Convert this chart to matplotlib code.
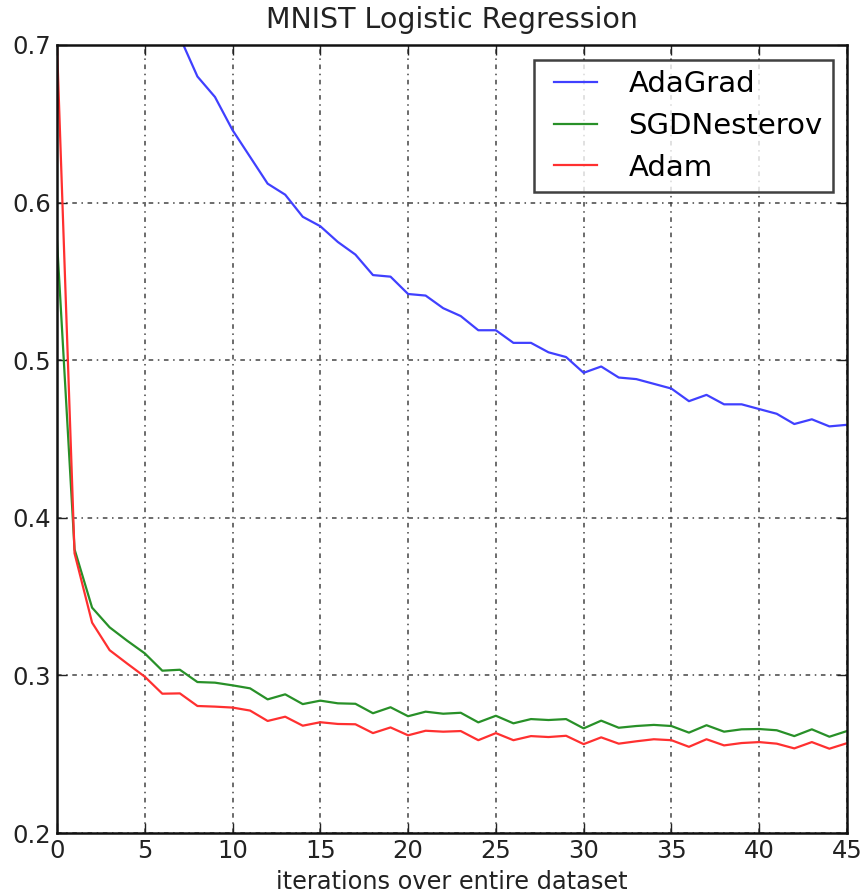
import matplotlib
matplotlib.use("Agg")
import matplotlib.pyplot as plt
from matplotlib.legend_handler import HandlerLine2D
import numpy as np

iterations = np.arange(46)

adagrad = [1.20, 0.95, 0.87, 0.81, 0.77, 0.74, 0.72, 0.705, 0.680, 0.667,
           0.646, 0.629, 0.612, 0.605, 0.591, 0.585, 0.575, 0.567, 0.554, 0.553,
           0.542, 0.541, 0.533, 0.528, 0.519, 0.519, 0.511, 0.511, 0.505, 0.502,
           0.492, 0.496, 0.489, 0.488, 0.485, 0.482, 0.474, 0.478, 0.472, 0.472,
           0.469, 0.466, 0.4595, 0.4625, 0.458, 0.459]

sgd_nesterov = [0.576, 0.380, 0.343, 0.3305, 0.322, 0.314, 0.303, 0.3036, 0.2958, 0.2954,
                0.2937, 0.2918, 0.2848, 0.288, 0.2818, 0.284, 0.2823, 0.282, 0.276, 0.2798,
                0.2741, 0.277, 0.2757, 0.2763, 0.2702, 0.2744, 0.2696, 0.2723, 0.2717, 0.2723,
                0.2664, 0.2713, 0.2668, 0.2679, 0.2686, 0.2679, 0.2637, 0.2684, 0.2643, 0.2658,
                0.266, 0.2652, 0.2615, 0.2658, 0.2611, 0.2647]

adam = [0.700, 0.3775, 0.3335, 0.316, 0.3075, 0.2992, 0.2884, 0.2886, 0.2806, 0.2802,
        0.2796, 0.2777, 0.2711, 0.2738, 0.2681, 0.2703, 0.2692, 0.269, 0.2634, 0.267,
        0.262, 0.2649, 0.2643, 0.2647, 0.2589, 0.2634, 0.2589, 0.2615, 0.2609, 0.2617,
        0.2564, 0.2607, 0.2567, 0.2582, 0.2595, 0.2589, 0.2547, 0.2595, 0.2556, 0.2571,
        0.2577, 0.2567, 0.2537, 0.2577, 0.2535, 0.257]

plt.rcParams["font.family"] = ["DejaVu Sans"]

fig = plt.figure(figsize=(8.66, 8.94), dpi=100)
ax = fig.add_axes([0.0658, 0.0682, 0.9122, 0.8815])

ax.plot(iterations, adagrad, color="#4040ff", linewidth=1.6, label="AdaGrad")
ax.plot(iterations, sgd_nesterov, color="#289028", linewidth=1.6, label="SGDNesterov")
ax.plot(iterations, adam, color="#ff3030", linewidth=1.6, label="Adam")

ax.set_xlim(0, 45)
ax.set_ylim(0.2, 0.7)
ax.set_xticks([0, 5, 10, 15, 20, 25, 30, 35, 40, 45])
ax.set_yticks([0.2, 0.3, 0.4, 0.5, 0.6, 0.7])
ax.set_yticklabels(["0.2", "0.3", "0.4", "0.5", "0.6", "0.7"])
ax.tick_params(direction="in", length=7, width=1, top=True, right=True,
               labelsize=17.5, pad=4, colors="#222222")
ax.grid(True, color="#444444", linestyle=(0, (3, 3, 1, 3)), linewidth=1.1)
for s in ax.spines.values():
    s.set_linewidth(1.8)
    s.set_color("#111111")

ax.set_title("MNIST Logistic Regression", fontsize=20.5, pad=12.5, color="#222222")
ax.set_xlabel("iterations over entire dataset", fontsize=17.3, labelpad=5, color="#222222")

# padded handles so the short line sits in from the frame like the old legend
handler = HandlerLine2D(numpoints=2, marker_pad=0.34)
leg = ax.legend(loc="upper right", fontsize=21, fancybox=False, handlelength=2.16,
                handletextpad=0.72, borderpad=0.35, labelspacing=0.47,
                borderaxespad=0, bbox_to_anchor=(0.982, 0.981),
                handler_map={matplotlib.lines.Line2D: handler})
leg.get_frame().set_edgecolor("#111111")
leg.get_frame().set_linewidth(1.8)

fig.savefig("out.png", dpi=100)
